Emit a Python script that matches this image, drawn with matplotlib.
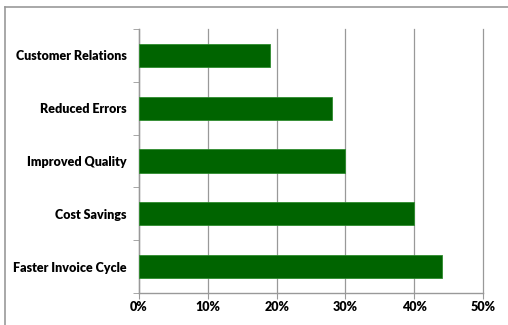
import matplotlib
matplotlib.use("Agg")
import matplotlib.pyplot as plt
from matplotlib.lines import Line2D
from matplotlib.ticker import FuncFormatter

categories = ["Faster Invoice Cycle", "Cost Savings", "Improved Quality",
              "Reduced Errors", "Customer Relations"]
values = [44, 40, 30, 28, 19]
xticks = [0, 10, 20, 30, 40, 50]

W, H = 508, 325
fig = plt.figure(figsize=(W / 100, H / 100), dpi=100)
plt.rcParams['font.family'] = ['Lato', 'DejaVu Sans']

ax = fig.add_axes([139 / W, 1 - 293 / H, (483 - 139) / W, (293 - 29) / H])
pos = list(range(len(categories)))
ax.barh(pos, values, height=0.44, color="#006400", edgecolor="#2e8b2e",
        linewidth=0.6, zorder=3)
ax.set_ylim(-0.5, len(categories) - 0.5)
ax.set_xlim(0, 50)
ax.set_xticks(xticks)
ax.xaxis.set_major_formatter(FuncFormatter(lambda v, p: f"{int(v)}%"))
ax.set_yticks(pos)
ax.set_yticklabels(categories)
ax.set_yticks([p - 0.5 for p in pos] + [len(pos) - 0.5], minor=True)
ax.tick_params(axis="y", which="major", length=0, pad=9)
ax.tick_params(axis="y", which="minor", length=4, color="#999999", direction="out")
ax.tick_params(axis="x", length=4, color="#999999", pad=2)
for lab in ax.get_xticklabels() + ax.get_yticklabels():
    lab.set_fontweight("heavy")
    lab.set_fontsize(9)
ax.grid(axis="x", color="#999999", linewidth=0.9, zorder=0)
for gl in ax.get_xgridlines():
    gl.set_clip_on(False)
for s in ["top", "right"]:
    ax.spines[s].set_visible(False)
for s in ["left", "bottom"]:
    ax.spines[s].set_color("#999999")
    ax.spines[s].set_linewidth(1.0)

# outer chart border
fig.add_artist(Line2D([4.5 / W, 4.5 / W], [0, 1 - 7 / H], transform=fig.transFigure,
                      color="#999999", linewidth=1.2))
fig.add_artist(Line2D([4.5 / W, 1], [1 - 7 / H, 1 - 7 / H], transform=fig.transFigure,
                      color="#999999", linewidth=1.2))

fig.savefig("out.png", dpi=100)
